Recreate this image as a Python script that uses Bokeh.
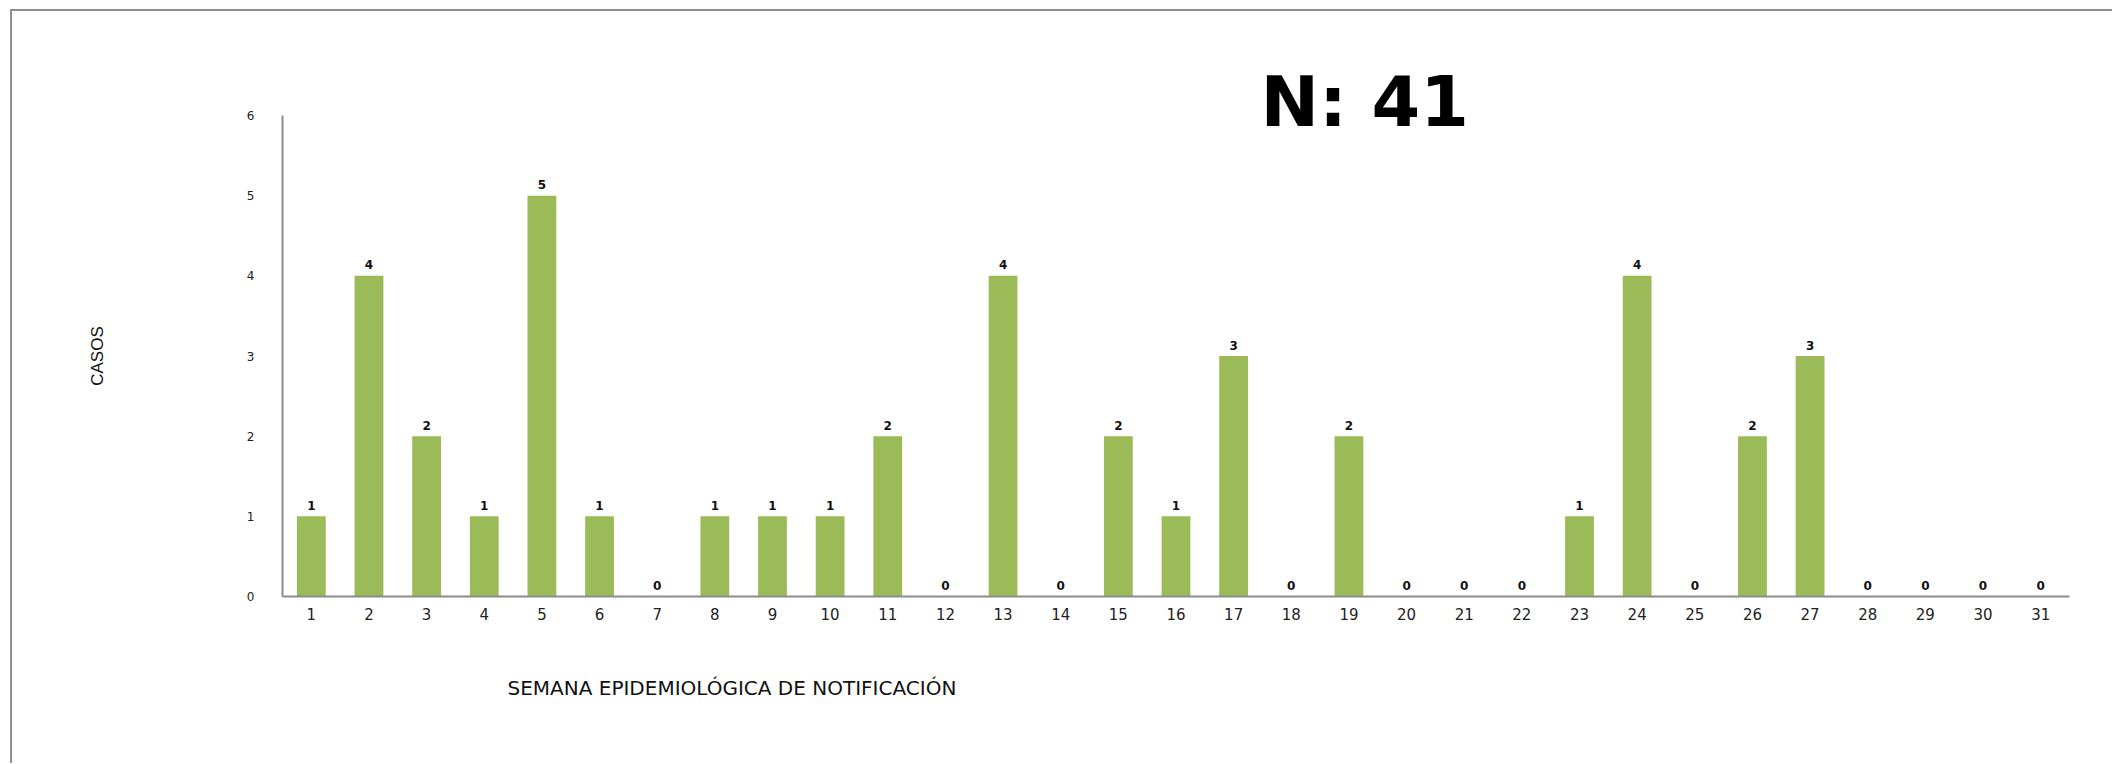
from bokeh.plotting import figure
from bokeh.models import ColumnDataSource, FixedTicker, Title
from bokeh.layouts import column
from bokeh.core.properties import value
from bokeh.embed import file_html
from bokeh.resources import INLINE

semanas = [str(i) for i in range(1, 32)]
casos = [1, 4, 2, 1, 5, 1, 0, 1, 1, 1, 2, 0, 4, 0, 2, 1, 3, 0, 2, 0, 0, 0, 1, 4, 0, 2, 3, 0, 0, 0, 0]
y_ticks = [0, 1, 2, 3, 4, 5, 6]
total_label = "N: " + str(sum(casos))
x_title = "SEMANA EPIDEMIOLÓGICA DE NOTIFICACIÓN"
y_title = "CASOS"

src = ColumnDataSource(dict(x=semanas, y=casos, t=[str(v) for v in casos]))

p = figure(x_range=semanas, y_range=(0, 6), width=2100, height=752,
           output_backend="svg", toolbar_location=None,
           min_border_left=270, min_border_right=43,
           min_border_top=104, min_border_bottom=167)
p.outline_line_color = None
p.grid.visible = False
p.background_fill_color = "white"
p.border_fill_color = "white"

p.vbar(x="x", top="y", width=0.5, source=src, fill_color="#9BBB59", line_color=None)
p.text(x="x", y="y", text="t", source=src, text_align="center", text_baseline="alphabetic",
       y_offset=-11, text_font=value("DejaVu Sans"), text_font_style="bold",
       text_font_size="12px", text_color="#111111")

for ax in (p.xaxis[0], p.yaxis[0]):
    ax.axis_line_color = "#8c8c8c"
    ax.axis_line_width = 2
    ax.major_tick_line_color = None
    ax.minor_tick_line_color = None
    ax.major_tick_in = 0
    ax.major_tick_out = 0
    ax.minor_tick_in = 0
    ax.minor_tick_out = 0
    ax.major_label_text_font = "DejaVu Sans"
    ax.major_label_text_color = "#222222"

p.yaxis.ticker = FixedTicker(ticks=y_ticks)
p.yaxis.major_label_text_font_size = "12px"
p.yaxis.major_label_standoff = 28
p.yaxis.axis_label = y_title
p.yaxis.axis_label_text_font = "Liberation Sans"
p.yaxis.axis_label_text_font_style = "normal"
p.yaxis.axis_label_text_font_size = "17px"
p.yaxis.axis_label_text_color = "#111111"
p.yaxis.axis_label_standoff = 137

p.xaxis.major_label_text_font_size = "15px"
p.xaxis.major_label_standoff = 11

p.add_layout(Title(text=x_title, align="left", offset=225, standoff=102,
                   text_font="DejaVu Sans", text_font_style="normal",
                   text_font_size="20px", text_color="#111111"), "below")

p.add_layout(Title(text=total_label, align="left", offset=978, standoff=-54,
                   text_font="DejaVu Sans", text_font_style="bold",
                   text_font_size="70px", text_color="black"), "above")

layout = column(p, styles={"border-top": "2px solid #8f8f8f", "border-left": "2px solid #8f8f8f",
                           "margin-top": "9px", "margin-left": "10px"})

open("out.html", "w").write(file_html(layout, INLINE))
